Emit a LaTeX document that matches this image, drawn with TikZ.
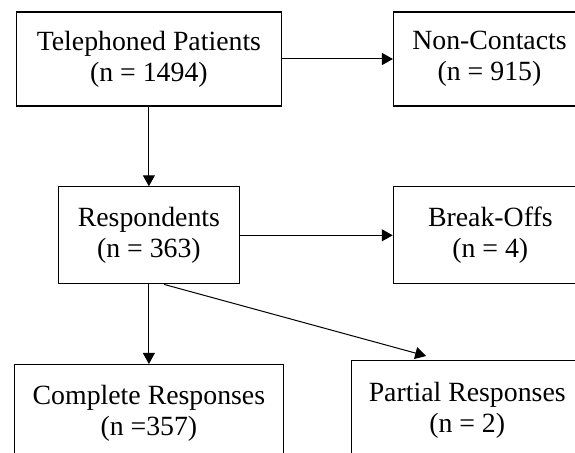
\documentclass[tikz,border=0pt]{standalone}
\usepackage{fontspec}
\setmainfont{Liberation Serif}
\usetikzlibrary{positioning}
\usetikzlibrary{arrows.meta}
\tikzset{
border/.style={line width=1.1pt},
stage/.style 2 args={draw, border, align=center, inner sep=0pt,
	minimum width=#1, minimum height=#2,
	font=\fontsize{27.8}{30.7}\selectfont},
flow/.style={-{Triangle[length=11pt,width=12pt]}, line width=1pt},
}

\begin{document}
\begin{tikzpicture}[x=1pt, y=-1pt]
\useasboundingbox (0,0) rectangle (575,452);
%Place the nodes
\node[stage={264.8pt}{94pt}] (tel) at (148.9,59) {Telephoned Patients\\(n = 1494)};
\node[stage={192pt}{94pt}, right=111.1pt of tel] (noncon) {Non-Contacts\\(n = 915)};
\node[stage={180.6pt}{97pt}, below=79.7pt of tel] (resp) {Respondents\\(n = 363)};
\node[stage={194pt}{97pt}, right=153pt of resp] (brk) {Break-Offs\\(n = 4)};
\node[stage={268.8pt}{98pt}, below=79.6pt of resp] (compl) {Complete Responses\\(n =357)};
\node[stage={232pt}{100pt}, anchor=north] (part) at (467.2,360) {Partial Responses\\(n = 2)};

%Connectors
\draw[flow] (tel) -- (noncon);
\draw[flow] (tel) -- (resp);
\draw[flow] (resp) -- (brk);
\draw[flow] (resp) -- (compl);
\draw[flow] ([xshift=15pt]resp.south) -- ([xshift=-41pt, yshift=4pt]part.north);

\end{tikzpicture}
\end{document}
